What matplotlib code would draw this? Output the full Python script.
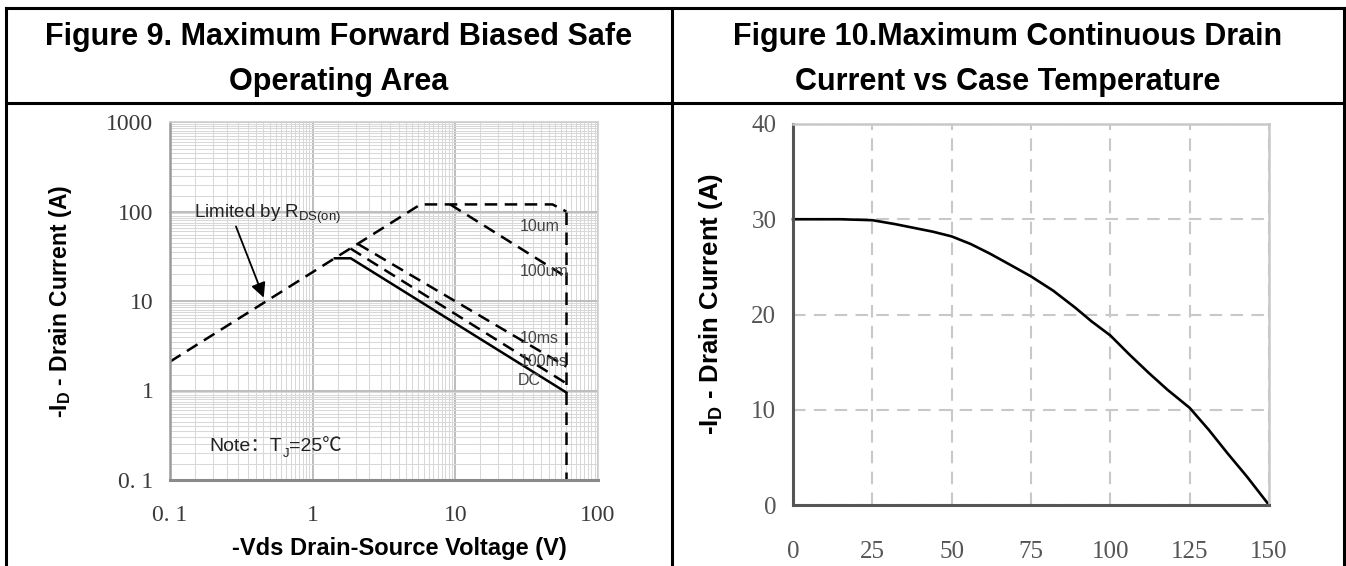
import numpy as np
import matplotlib
matplotlib.use('Agg')
import matplotlib.pyplot as plt
from matplotlib.lines import Line2D
from matplotlib.ticker import LogLocator, NullFormatter, FixedLocator
from matplotlib.transforms import offset_copy

plt.rcParams['mathtext.fontset'] = 'custom'
plt.rcParams['mathtext.rm'] = 'Liberation Sans'
plt.rcParams['mathtext.bf'] = 'Liberation Sans:bold'
plt.rcParams['mathtext.it'] = 'Liberation Sans:italic'
plt.rcParams['mathtext.sf'] = 'Liberation Sans'

# ---------------- data: Figure 9 (SOA) ----------------
limit_v = [0.1, 5.7, 48, 60]          # R_DS(on) limit + 10us top
limit_i = [2.1, 120, 120, 100]
us100_v = [9.2, 60]
us100_i = [120, 18.5]
ms10_v = [2.07, 60]
ms10_i = [43.5, 1.85]
ms100_v = [1.84, 60]
ms100_i = [38.6, 1.2]
dc_v = [1.43, 1.85, 60]
dc_i = [30, 30, 0.95]
bv_v = [60, 60]
bv_i = [100, 0.1]
soa_xticks = [0.1, 1, 10, 100]
soa_xticklabels = ['0. 1', '1', '10', '100']
soa_yticks = [0.1, 1, 10, 100, 1000]
soa_yticklabels = ['0. 1', '1', '10', '100', '1000']
curve_labels = ['10um', '100um', '10ms', '100ms', 'DC']
curve_label_v = [28.5, 28.5, 28.5, 28.5, 27.2]
curve_label_i = [68, 21.3, 3.8, 2.1, 1.28]

# ---------------- data: Figure 10 (Id vs Tc) ----------------
temp_c = [0, 8, 15, 25, 32, 38, 44, 50, 56, 62, 68, 75, 82, 89, 94, 100,
          106, 112, 118, 125, 131, 137, 143, 150]
drain_a = [30, 30, 30, 29.9, 29.5, 29.1, 28.7, 28.2, 27.4, 26.4, 25.3, 24,
           22.5, 20.7, 19.3, 17.8, 15.8, 13.9, 12.1, 10.2, 7.9, 5.4, 3.0, 0]
tc_xticks = [0, 25, 50, 75, 100, 125, 150]
tc_yticks = [0, 10, 20, 30, 40]

W, H = 1346, 566
fig = plt.figure(figsize=(W / 100, H / 100), dpi=100)
fig.patch.set_facecolor('white')

def fx(px):
    return px / W

def fy(py):
    return 1 - py / H

# ---------- panel borders ----------
for (x0, y0, x1, y1) in [(6, 8, 1344, 8), (6, 103, 1344, 103),
                         (6, 8, 6, 566), (672, 8, 672, 566), (1344, 8, 1344, 566)]:
    fig.add_artist(Line2D([fx(x0), fx(x1)], [fy(y0), fy(y1)], color='black',
                          lw=2.2, transform=fig.transFigure, solid_capstyle='projecting'))

title_kw = dict(fontsize=22, fontweight='bold', family='Liberation Sans',
                ha='center', va='baseline', color='black')
fig.text(fx(339), fy(45), 'Figure 9. Maximum Forward Biased Safe', **title_kw)
fig.text(fx(339), fy(90), 'Operating Area', **title_kw)
fig.text(fx(1008), fy(45), 'Figure 10.Maximum Continuous Drain', **title_kw)
fig.text(fx(1008), fy(90), 'Current vs Case Temperature', **title_kw)

# ---------- left axes ----------
ax1 = fig.add_axes([fx(170), fy(480), fx(598) - fx(170), fy(122) - fy(480)])
ax1.set_xscale('log')
ax1.set_yscale('log')
ax1.set_xlim(0.1, 100)
ax1.set_ylim(0.1, 1000)
ax1.xaxis.set_major_locator(FixedLocator(soa_xticks))
ax1.yaxis.set_major_locator(FixedLocator(soa_yticks))
ax1.set_xticklabels(soa_xticklabels)
ax1.set_yticklabels(soa_yticklabels)
minor_subs = np.arange(1.5, 10, 0.5)
ax1.xaxis.set_minor_locator(LogLocator(base=10, subs=minor_subs, numticks=50))
ax1.yaxis.set_minor_locator(LogLocator(base=10, subs=minor_subs, numticks=50))
ax1.xaxis.set_minor_formatter(NullFormatter())
ax1.yaxis.set_minor_formatter(NullFormatter())
ax1.grid(True, which='major', color='#bdbdbd', lw=1.4)
ax1.grid(True, which='minor', color='#d8d8d8', lw=0.75)
ax1.set_axisbelow(True)
ax1.tick_params(which='both', length=0)
ax1.tick_params(axis='x', pad=18)
ax1.tick_params(axis='y', pad=12)
for lab in ax1.get_xticklabels() + ax1.get_yticklabels():
    lab.set_family('Liberation Serif')
    lab.set_fontsize(17)
    lab.set_color('#3a3a3a')
ax1.spines['left'].set_color('#9a9a9a')
ax1.spines['bottom'].set_color('#8a8a8a')
ax1.spines['left'].set_linewidth(1.8)
ax1.spines['bottom'].set_linewidth(2.2)
ax1.spines['top'].set_color('#cfcfcf')
ax1.spines['right'].set_color('#cfcfcf')
ax1.spines['top'].set_linewidth(1.2)
ax1.spines['right'].set_linewidth(1.2)

dash_kw = dict(color='black', lw=1.8, linestyle=(0, (5, 3)))
ax1.plot(limit_v, limit_i, **dash_kw)
ax1.plot(us100_v, us100_i, **dash_kw)
ax1.plot(ms10_v, ms10_i, **dash_kw)
ax1.plot(ms100_v, ms100_i, **dash_kw)
ax1.plot(bv_v, bv_i, clip_on=False, **dash_kw)
ax1.plot(dc_v, dc_i, color='black', lw=1.8)

for s, v, i in zip(curve_labels, curve_label_v, curve_label_i):
    ax1.text(v, i, s, fontsize=11.5, family='Liberation Sans', color='#444444',
             ha='left', va='center')

ax1.text(0.147, 83.6, r'Limited by R$_\mathrm{DS(on)}$', fontsize=13.5,
         family='Liberation Sans', color='#222222', ha='left', va='baseline')
ax1.annotate('', xy=(0.454, 10.9), xytext=(0.29, 68),
             arrowprops=dict(arrowstyle='-|>', color='black', lw=1.3,
                             mutation_scale=22, shrinkA=0, shrinkB=0))

# Note: T_J=25C drawn in pieces (CJK punctuation + subscript)
fig.canvas.draw()
renderer = fig.canvas.get_renderer()
pieces = [('Note：T', 14, 0), ('J', 9.5, -4), ('=25℃', 14, 0)]
dx = 0.0
for s, size, dy in pieces:
    tr = offset_copy(ax1.transData, fig=fig, x=dx, y=dy, units='points')
    t = ax1.text(0.19, 0.209, s, transform=tr, fontsize=size,
                 family=['Liberation Sans', 'Noto Sans CJK SC', 'DejaVu Sans'],
                 color='#222222', ha='left', va='baseline')
    bb = t.get_window_extent(renderer)
    dx += bb.width * 72 / fig.dpi

fig.text(fx(60), (fy(122) + fy(480)) / 2, r'-I$_\mathbf{D}$ - Drain Current (A)',
         rotation=90, fontsize=16.5, fontweight='bold', family='Liberation Sans',
         ha='center', va='center')
fig.text(fx(399), fy(548), '-Vds Drain-Source Voltage (V)', fontsize=17,
         fontweight='bold', family='Liberation Sans', ha='center', va='center')

# ---------- right axes ----------
ax2 = fig.add_axes([fx(793), fy(505), fx(1269) - fx(793), fy(124) - fy(505)])
ax2.set_xlim(0, 150)
ax2.set_ylim(0, 40)
ax2.set_xticks(tc_xticks)
ax2.set_yticks(tc_yticks)
ax2.grid(True, color='#c8c8c8', lw=1.5, linestyle=(0, (6, 4)))
ax2.set_axisbelow(True)
ax2.tick_params(length=0)
ax2.tick_params(axis='x', pad=26)
ax2.tick_params(axis='y', pad=12)
for lab in ax2.get_xticklabels() + ax2.get_yticklabels():
    lab.set_family('Liberation Serif')
    lab.set_fontsize(18)
    lab.set_color('#555555')
ax2.spines['left'].set_color('#555555')
ax2.spines['bottom'].set_color('#555555')
ax2.spines['left'].set_linewidth(2.2)
ax2.spines['bottom'].set_linewidth(2.2)
ax2.spines['top'].set_color('#c8c8c8')
ax2.spines['right'].set_color('#c8c8c8')
ax2.spines['top'].set_linewidth(1.8)
ax2.spines['right'].set_linewidth(1.8)
ax2.plot(temp_c, drain_a, color='black', lw=1.9, clip_on=False)

fig.text(fx(711), fy(304), r'-I$_\mathbf{D}$ - Drain Current (A)',
         rotation=90, fontsize=18.5, fontweight='bold', family='Liberation Sans',
         ha='center', va='center')

fig.savefig('out.png', dpi=100, facecolor='white')
